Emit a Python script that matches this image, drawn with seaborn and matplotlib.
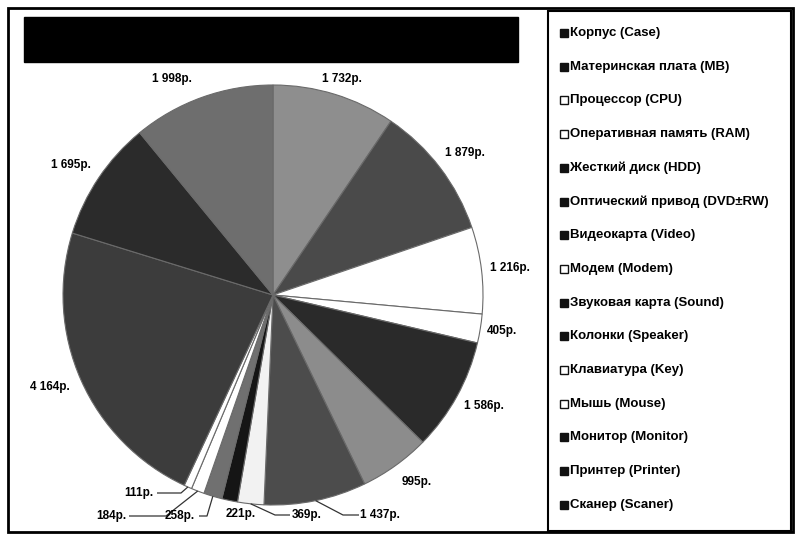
import matplotlib
matplotlib.use("Agg")
import matplotlib.pyplot as plt
import seaborn as sns
import numpy as np
from matplotlib.patches import Rectangle

# ---- data ----
categories = ["Корпус (Case)", "Материнская плата (MB)", "Процессор (CPU)",
              "Оперативная память (RAM)", "Жесткий диск (HDD)",
              "Оптический привод (DVD±RW)", "Видеокарта (Video)", "Модем (Modem)",
              "Звуковая карта (Sound)", "Колонки (Speaker)", "Клавиатура (Key)",
              "Мышь (Mouse)", "Монитор (Monitor)", "Принтер (Printer)", "Сканер (Scaner)"]
values = [1732, 1879, 1216, 405, 1586, 995, 1437, 369, 221, 258, 184, 111, 4164, 1695, 1998]
colors = ["#8e8e8e", "#4a4a4a", "#ffffff", "#ffffff", "#2a2a2a", "#8c8c8c", "#4c4c4c",
          "#f2f2f2", "#151515", "#707070", "#ffffff", "#ffffff", "#3c3c3c", "#2b2b2b", "#6e6e6e"]

labels = [f"{v:,}".replace(",", " ") + "р." for v in values]

# ---- layout (pixel space, y down) ----
W, H = 797, 535
CX, CY, R = 273, 295, 210
label_pos = [(342, 79), (465, 153), (510, 268), (502, 331), (484, 406), (417, 482),
             (380, 515), (307, 515), (241, 514), (180, 516), (111, 516), (139, 493),
             (50, 387), (71, 165), (172, 79)]
# leader lines: index -> (elbow_px, end_px)
leaders = {6: ((343, 515), (359, 515)),
           7: ((275, 515), (290, 515)),
           9: ((207, 516), (199, 516)),
           10: ((166, 516), (129, 516)),
           11: ((181, 493), (157, 493))}

sns.set_theme(style="white")
plt.rcParams['font.family'] = ['Liberation Sans', 'DejaVu Sans']

fig = plt.figure(figsize=(W / 100, H / 100), dpi=100)
ax = fig.add_axes([0, 0, 1, 1])

def Y(y):
    return H - y

wedges, _ = ax.pie(values, colors=colors, startangle=90, counterclock=False,
                   center=(CX, Y(CY)), radius=R,
                   wedgeprops=dict(edgecolor="#6a6a6a", linewidth=0.8))
ax.set_xlim(0, W)
ax.set_ylim(0, H)
ax.set_aspect("equal")
ax.axis("off")

# data labels
for i, (lab, (lx, ly)) in enumerate(zip(labels, label_pos)):
    ax.text(lx, Y(ly), lab, ha="center", va="center", fontsize=8.5,
            fontweight="bold", color="black")
    if i in leaders:
        w = wedges[i]
        mid = np.deg2rad((w.theta1 + w.theta2) / 2)
        ex = CX + R * np.cos(mid)
        ey = Y(CY) + R * np.sin(mid)
        (bx, by), (tx, ty) = leaders[i]
        ax.plot([ex, bx, tx], [ey, Y(by), Y(ty)], color="#333333", lw=0.9,
                solid_capstyle="butt")

# title bar (black)
ax.add_patch(Rectangle((24, Y(62)), 494, 45, facecolor="black", edgecolor="black"))

# outer frame
ax.add_patch(Rectangle((8, Y(532)), 785, 524, fill=False, edgecolor="black", lw=2))

# legend box and entries
ax.add_patch(Rectangle((548, Y(531)), 243, 520, fill=False, edgecolor="black", lw=1.5))
for i, (cat, col) in enumerate(zip(categories, colors)):
    y = 33 + i * 33.7
    is_white = col.lower() in ("#ffffff", "#f2f2f2")
    ax.plot([564], [Y(y)], marker="s", markersize=5.5,
            markerfacecolor="white" if is_white else "#111111",
            markeredgecolor="#111111", markeredgewidth=1.0, ls="none")
    ax.text(570, Y(y), cat, ha="left", va="center", fontsize=9.5,
            fontweight="bold", color="black")

fig.savefig("out.png", dpi=100)
